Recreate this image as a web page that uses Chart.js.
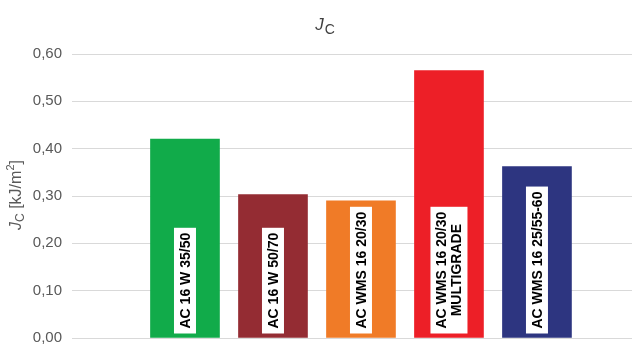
<!DOCTYPE html>
<html>
<head>
<meta charset="utf-8">
<script src="https://cdn.jsdelivr.net/npm/chart.js@4/dist/chart.umd.min.js"></script>
<style>
  html, body { margin: 0; padding: 0; background: #fff; }
  #wrap { width: 632px; height: 345px; position: relative; }
</style>
</head>
<body>
<div id="wrap"><canvas id="chart"></canvas></div>
<script>
// data
const categories = [
    ["AC 16 W 35/50"],
    ["AC 16 W 50/70"],
    ["AC WMS 16 20/30"],
    ["AC WMS 16 20/30", "MULTIGRADE"],
    ["AC WMS 16 25/55-60"]
];
const jcValues = [0.42, 0.303, 0.29, 0.565, 0.362];
const barColors = ["#11ab4a", "#942c33", "#f07b27", "#ed1f27", "#2d3580"];
const yTicks = [0, 0.1, 0.2, 0.3, 0.4, 0.5, 0.6];

const FONT = "'Liberation Sans', Arial, sans-serif";

// subscripted titles (J_C) drawn as text
const titlesPlugin = {
    id: "titles",
    afterDraw(chart) {
        const ctx = chart.ctx;
        ctx.save();
        // main title
        ctx.fillStyle = "#404040";
        ctx.textBaseline = "alphabetic";
        ctx.textAlign = "left";
        ctx.font = "italic 17px " + FONT;
        const jw = ctx.measureText("J").width;
        ctx.font = "14px " + FONT;
        const cw = ctx.measureText("C").width;
        let x0 = 325 - (jw + cw + 1) / 2;
        ctx.font = "italic 17px " + FONT;
        ctx.fillText("J", x0, 30);
        ctx.font = "14px " + FONT;
        ctx.fillText("C", x0 + jw + 1, 34);

        // y axis title
        ctx.translate(21, 195);
        ctx.rotate(-Math.PI / 2);
        ctx.fillStyle = "#595959";
        const parts = [
            { t: "J", f: "italic 16px ", dy: 0 },
            { t: "C", f: "12px ", dy: 3 },
            { t: " [kJ/m", f: "16px ", dy: 0 },
            { t: "2", f: "11px ", dy: -7 },
            { t: "]", f: "16px ", dy: 0 }
        ];
        let total = 0;
        parts.forEach(p => { ctx.font = p.f + FONT; p.w = ctx.measureText(p.t).width; total += p.w; });
        let x = -total / 2;
        parts.forEach(p => {
            ctx.font = p.f + FONT;
            ctx.fillText(p.t, x, p.dy);
            x += p.w;
        });
        ctx.restore();
    }
};

// white boxes with the mix names inside each bar
const barLabels = {
    id: "barLabels",
    afterDatasetsDraw(chart) {
        const ctx = chart.ctx;
        const meta = chart.getDatasetMeta(0);
        ctx.save();
        ctx.font = "bold 14px " + FONT;
        meta.data.forEach((bar, i) => {
            const lines = categories[i];
            const lh = 15;
            let tw = 0;
            lines.forEach(l => { tw = Math.max(tw, ctx.measureText(l).width); });
            const boxH = tw + 10;
            const boxW = lines.length * lh + 7;
            const bottom = bar.base - 4;
            ctx.save();
            ctx.translate(bar.x, bottom);
            ctx.rotate(-Math.PI / 2);
            ctx.fillStyle = "#ffffff";
            ctx.fillRect(0, -boxW / 2, boxH, boxW);
            ctx.fillStyle = "#000000";
            ctx.textAlign = "center";
            ctx.textBaseline = "middle";
            lines.forEach((l, k) => {
                const off = (k - (lines.length - 1) / 2) * lh;
                ctx.fillText(l, boxH / 2, off + 1);
            });
            ctx.restore();
        });
        ctx.restore();
    }
};

new Chart(document.getElementById("chart"), {
    type: "bar",
    data: {
        datasets: [{
            data: jcValues.map((v, i) => ({ x: i, y: v })),
            backgroundColor: barColors,
            borderWidth: 0,
            barThickness: 69
        }]
    },
    options: {
        responsive: true,
        maintainAspectRatio: false,
        animation: false,
        layout: { padding: { top: 54, bottom: 7, left: 0, right: 0 } },
        plugins: {
            legend: { display: false },
            title: { display: false },
            tooltip: { enabled: false }
        },
        scales: {
            x: {
                type: "linear",
                offset: false,
                min: -1.284,
                max: 5.08,
                display: false
            },
            y: {
                min: 0,
                max: 0.6,
                afterFit(scale) {
                    scale.width = 72;
                    scale.paddingTop = 0;
                    scale.paddingBottom = 0;
                },
                afterBuildTicks(scale) { scale.ticks = yTicks.map(v => ({ value: v })); },
                border: { display: false },
                grid: { color: "#d9d9d9", lineWidth: 1, drawTicks: false },
                ticks: {
                    padding: 10,
                    color: "#595959",
                    font: { family: FONT, size: 15 },
                    callback: v => v.toFixed(2).replace(".", ",")
                }
            }
        }
    },
    plugins: [titlesPlugin, barLabels]
});
</script>
</body>
</html>
